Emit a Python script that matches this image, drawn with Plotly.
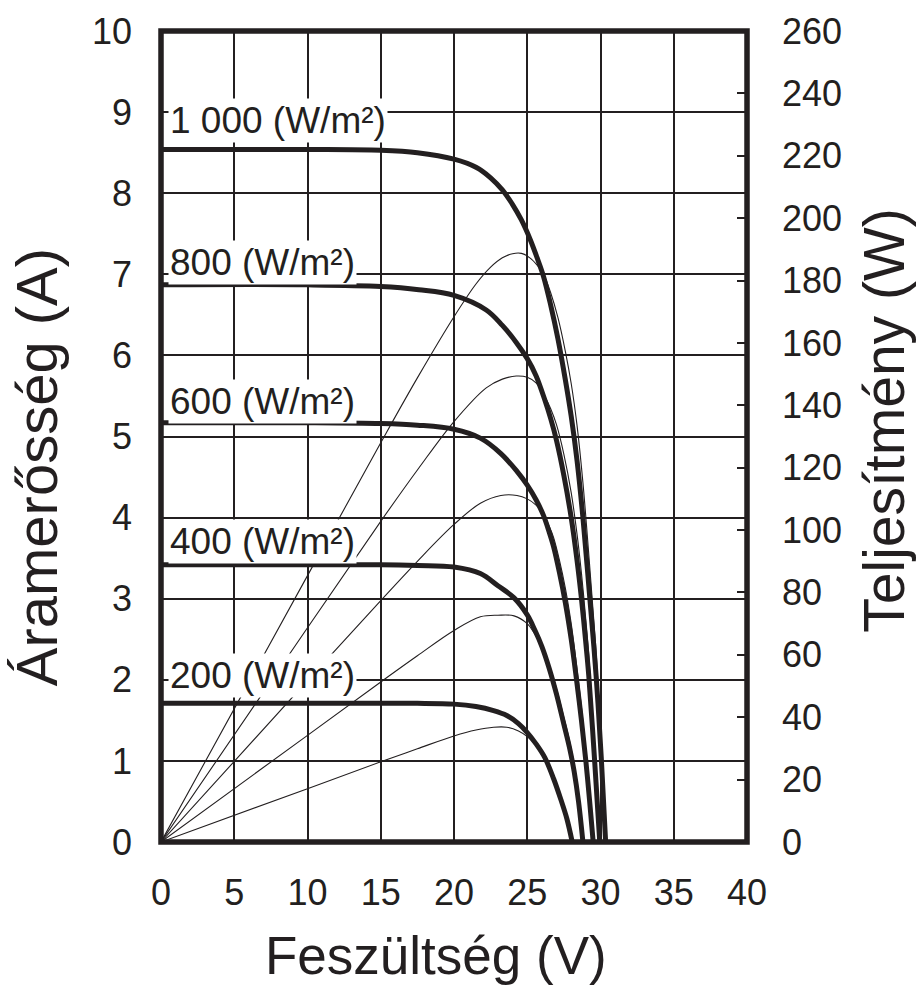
import plotly.graph_objects as go

INK = "#231f20"
FONT = "Liberation Sans, Arial, Helvetica, sans-serif"

# Irradiance levels (W/m²)
irradiance = [1000, 800, 600, 400, 200]
irradiance_labels = ["1 000 (W/m²)", "800 (W/m²)", "600 (W/m²)", "400 (W/m²)", "200 (W/m²)"]

# I-V characteristics: voltage (V) and current (A)
v_1000 = [0, 10, 15, 17.5, 20, 21.5, 22.5, 23.3, 24.0, 24.6, 25.2, 25.7, 26.1, 26.6, 27.1, 27.6, 28.0, 28.4, 28.8, 29.25, 29.7, 30.05, 30.35]
i_1000 = [8.54, 8.54, 8.53, 8.50, 8.42, 8.32, 8.19, 8.04, 7.86, 7.67, 7.43, 7.19, 6.98, 6.62, 6.20, 5.70, 5.25, 4.70, 4.00, 3.05, 2.05, 1.05, 0]

v_800 = [0, 10, 15, 17.6, 20, 22.2, 23.3, 24.25, 25, 25.6, 26.2, 26.6, 27.0, 27.5, 28.0, 28.4, 28.7, 29.0, 29.2, 29.6, 29.95]
i_800 = [6.87, 6.87, 6.85, 6.81, 6.74, 6.56, 6.37, 6.16, 5.96, 5.75, 5.45, 5.22, 4.95, 4.52, 4.00, 3.47, 3.00, 2.45, 2.05, 1.00, 0]

v_600 = [0, 10, 15, 17.5, 20, 21.8, 23.2, 24.3, 25, 25.6, 26.1, 26.5, 26.8, 27.2, 27.6, 28.0, 28.35, 28.7, 29.0, 29.25, 29.5]
i_600 = [5.17, 5.17, 5.16, 5.14, 5.09, 4.98, 4.79, 4.57, 4.40, 4.22, 4.03, 3.82, 3.64, 3.32, 2.95, 2.50, 2.02, 1.50, 1.00, 0.52, 0]

v_400 = [0, 10, 15, 17.5, 20, 21.8, 23.0, 24.1, 25, 25.5, 26.0, 26.5, 27.0, 27.5, 27.9, 28.2, 28.5, 28.8]
i_400 = [3.42, 3.42, 3.42, 3.41, 3.39, 3.31, 3.16, 3.01, 2.80, 2.62, 2.41, 2.14, 1.82, 1.45, 1.15, 0.87, 0.50, 0]

v_200 = [0, 10, 15, 17.5, 20, 21.5, 22.7, 23.6, 24.4, 25.0, 25.6, 26.2, 26.8, 27.3, 27.7, 28.07]
i_200 = [1.71, 1.71, 1.71, 1.71, 1.70, 1.67, 1.62, 1.56, 1.46, 1.35, 1.21, 1.04, 0.78, 0.52, 0.29, 0]

# Output power (W) at the same voltages
p_1000 = [0, 85.4, 128.0, 148.8, 168.4, 178.9, 184.3, 187.3, 188.6, 188.7, 187.2, 184.8, 182.2, 176.1, 168.0, 157.3, 147.0, 133.5, 115.2, 89.2, 60.9, 31.6, 0]
p_800 = [0, 68.7, 102.8, 119.9, 134.8, 145.6, 148.4, 149.4, 149.0, 147.2, 142.8, 138.9, 133.7, 124.3, 112.0, 98.6, 86.1, 71.1, 59.9, 29.6, 0]
p_600 = [0, 51.7, 77.4, 90.0, 101.8, 108.6, 111.1, 111.1, 110.0, 108.0, 105.2, 101.2, 97.6, 90.3, 81.4, 70.0, 57.3, 43.1, 29.0, 15.2, 0]
p_400 = [0, 34.2, 51.3, 59.7, 67.8, 72.2, 72.7, 72.5, 70.0, 66.8, 62.7, 56.7, 49.1, 39.9, 32.1, 24.5, 14.3, 0]
p_200 = [0, 17.1, 25.7, 29.9, 34.0, 35.9, 36.8, 36.8, 35.6, 33.8, 31.0, 27.2, 20.9, 14.2, 8.0, 0]

# Axis ticks
x_ticks = [0, 5, 10, 15, 20, 25, 30, 35, 40]
y_ticks = list(range(0, 11))
y2_ticks = list(range(0, 261, 20))

voltages = [v_1000, v_800, v_600, v_400, v_200]
currents = [i_1000, i_800, i_600, i_400, i_200]
powers = [p_1000, p_800, p_600, p_400, p_200]

fig = go.Figure()

# Thin power curves on the right-hand axis
for g, v, p in zip(irradiance, voltages, powers):
    fig.add_trace(go.Scatter(
        x=v, y=p, yaxis="y2", mode="lines", name=f"P {g}",
        line=dict(color=INK, width=1.1, shape="spline", smoothing=1.0),
        hoverinfo="skip", showlegend=False,
    ))

# Thick I-V curves on the left-hand axis
for g, v, i in zip(irradiance, voltages, currents):
    fig.add_trace(go.Scatter(
        x=v, y=i, mode="lines", name=f"I {g}",
        line=dict(color=INK, width=5, shape="spline", smoothing=1.0),
        hoverinfo="skip", showlegend=False,
    ))

# Irradiance labels on white boxes above each curve
label_y = [8.90, 7.14, 5.43, 3.71, 2.05]
for text, ly in zip(irradiance_labels, label_y):
    fig.add_annotation(
        x=0.45, y=ly, xref="x", yref="y", xanchor="left", yanchor="middle",
        text=text, showarrow=False, bgcolor="white", borderpad=1,
        font=dict(family=FONT, size=37, color=INK),
    )

# Axis titles
fig.add_annotation(
    x=0.469, y=-0.140, xref="paper", yref="paper", xanchor="center", yanchor="middle",
    text="Feszültség (V)", showarrow=False, font=dict(family=FONT, size=53, color=INK),
)
fig.add_annotation(
    x=-0.212, y=0.4618, xref="paper", yref="paper", xanchor="center", yanchor="middle",
    text="Áramerősség (A)", textangle=-90, showarrow=False,
    font=dict(family=FONT, size=58, color=INK),
)
fig.add_annotation(
    x=1.2345, y=0.520, xref="paper", yref="paper", xanchor="center", yanchor="middle",
    text="Teljesítmény (W)", textangle=-90, showarrow=False,
    font=dict(family=FONT, size=57, color=INK),
)

# Heavy frame around the plotting area
fig.add_shape(type="rect", xref="paper", yref="paper", x0=0, y0=0, x1=1, y1=1,
              line=dict(color=INK, width=5.5), layer="above")

tick_font = dict(family=FONT, size=36, color=INK)

fig.update_layout(
    width=917, height=986,
    margin=dict(l=161, r=170, t=31, b=144, pad=0),
    paper_bgcolor="white", plot_bgcolor="white",
    showlegend=False,
    xaxis=dict(
        range=[0, 40], tickvals=x_ticks, ticktext=[str(t) for t in x_ticks],
        showgrid=True, gridcolor=INK, gridwidth=2, zeroline=False,
        showline=False, ticks="", tickfont=tick_font, ticklabelstandoff=26,
        fixedrange=True,
    ),
    yaxis=dict(
        range=[0, 10], tickvals=y_ticks, ticktext=[str(t) for t in y_ticks],
        showgrid=True, gridcolor=INK, gridwidth=2, zeroline=False,
        showline=False, ticks="", tickfont=tick_font, ticklabelstandoff=28,
        fixedrange=True,
    ),
    yaxis2=dict(
        range=[0, 260], tickvals=y2_ticks, ticktext=[str(t) for t in y2_ticks],
        overlaying="y", side="right", showgrid=False, zeroline=False,
        showline=False, ticks="inside", ticklen=10, tickwidth=2, tickcolor=INK,
        tickfont=tick_font, ticklabelstandoff=34, fixedrange=True,
    ),
)

fig.write_html("out.html")
